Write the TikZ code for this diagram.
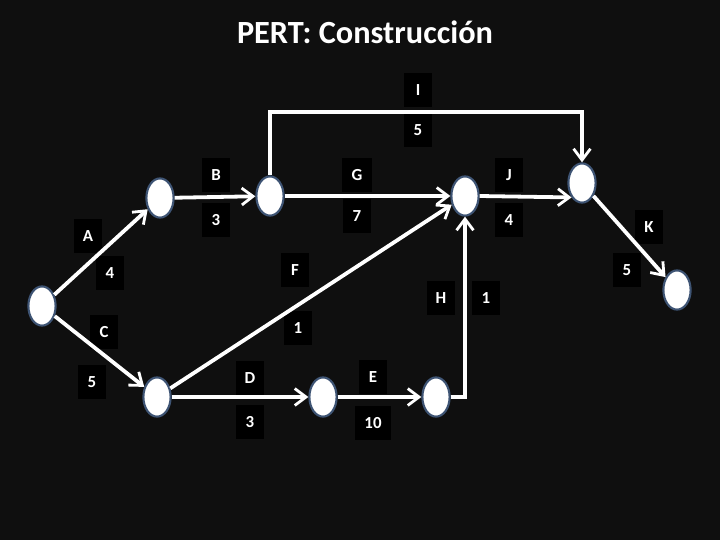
\documentclass[tikz,border=0pt]{standalone}
\usepackage{fontspec}
\setmainfont{Carlito}
\usetikzlibrary{arrows.meta, shapes.geometric}
\definecolor{bgblack}{RGB}{15, 15, 15}
\definecolor{nodeedge}{RGB}{62, 84, 116}

\begin{document}
\begin{tikzpicture}[
  x=0.025cm, y=-0.025cm,
  event/.style={ellipse, draw=nodeedge, line width=1.5pt, fill=white,
                minimum width=0.68cm, minimum height=0.98cm, inner sep=0pt},
  tag/.style={fill=black, text=white, font=\fontsize{12}{14}\selectfont\bfseries,
              minimum width=0.7cm, minimum height=0.85cm, inner xsep=6.5pt, inner ysep=2pt},
  arr/.style={-{Straight Barb[length=8pt, width=12pt, line width=2pt]}, white, line width=2.7pt}
]
  \fill[bgblack] (0,0) rectangle (720,540);
  \node[white, font=\fontsize{23}{27}\selectfont\bfseries] (title) at (365,32) {PERT: Construcción};

  % events
  \node[event] (n1) at (42,306)  {};
  \node[event] (n2) at (160,198) {};
  \node[event] (n3) at (270,196) {};
  \node[event] (n4) at (465,196) {};
  \node[event] (n5) at (582,183) {};
  \node[event] (n6) at (677,290) {};
  \node[event] (n7) at (157,397) {};
  \node[event] (n8) at (323,397) {};
  \node[event] (n9) at (436,397) {};

  % activity names and durations
  \node[tag] (tA) at (88,236)  {A};  \node[tag] (dA) at (110,273) {4};
  \node[tag] (tC) at (104,332) {C};  \node[tag] (dC) at (92,382)  {5};
  \node[tag] (tB) at (216,175) {B};  \node[tag] (dB) at (216,220) {3};
  \node[tag] (tG) at (357,175) {G};  \node[tag] (dG) at (357,216) {7};
  \node[tag] (tJ) at (509,175) {J};  \node[tag] (dJ) at (509,220) {4};
  \node[tag] (tI) at (418,90)  {I};  \node[tag] (dI) at (418,130) {5};
  \node[tag] (tF) at (295,270) {F};  \node[tag] (dF) at (298,328) {1};
  \node[tag] (tD) at (250,378) {D};  \node[tag] (dD) at (250,422) {3};
  \node[tag] (tE) at (373,377) {E};  \node[tag] (dE) at (373,423) {10};
  \node[tag] (tH) at (441,298) {H};  \node[tag] (dH) at (486,298) {1};
  \node[tag] (tK) at (649,227) {K};  \node[tag] (dK) at (627,270) {5};

  \draw[arr] (n1) -- (n2);
  \draw[arr] (n1) -- (n7);
  \draw[arr] (n2) -- (n3);
  \draw[arr] (n3) -- (n4);
  \draw[arr] (n4.east) -- (n5.234);
  \draw[arr] (n3.north) -- ++(0,-63) -| (n5.north);
  \draw[arr] (n7) -- (n4);
  \draw[arr] (n7) -- (n8);
  \draw[arr] (n8) -- (n9);
  \draw[arr] (n9.east) -| (n4.south);
  \draw[arr] (n5) -- (n6);
\end{tikzpicture}
\end{document}
